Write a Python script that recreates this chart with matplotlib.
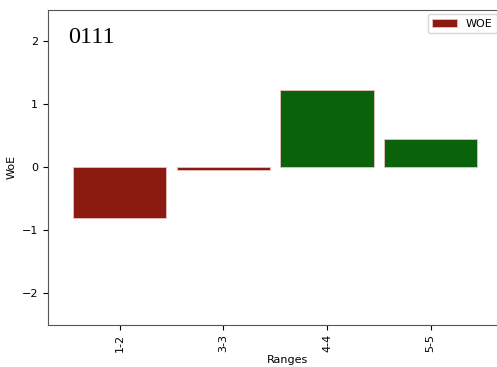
import matplotlib.pyplot as plt

ranges = ["1-2", "3-3", "4-4", "5-5"]
woe = [-0.81, -0.045, 1.22, 0.45]
colors = ["#8b1a10" if v < 0 else "#0a620a" for v in woe]

fig = plt.figure(figsize=(4.97, 3.67), dpi=100)
# axes runs off the right edge like the cropped original
ax = fig.add_axes([48 / 497, 42.5 / 367, 480 / 497, 315 / 367])
ax.bar(range(len(ranges)), woe, color=colors, width=0.9,
       edgecolor="#e8c0c0", linewidth=0.6, label="WOE")
ax.set_xticks(range(len(ranges)))
ax.set_xticklabels(ranges, rotation=90)
ax.set_xlim(-0.69, -0.69 + 480 / 103.7)
ax.set_ylim(-2.5, 2.5)
ax.set_xlabel("Ranges", fontsize=8, labelpad=2)
ax.set_ylabel("WoE", fontsize=8)
ax.tick_params(labelsize=8)
ax.set_yticks([-2, -1, 0, 1, 2])
for s in ax.spines.values():
    s.set_color("#555555")
ax.text(20 / 480, 0.91, "0111", transform=ax.transAxes, fontsize=17.5,
        family="Liberation Serif", va="center")
leg = ax.legend(loc="upper left", fontsize=8, bbox_to_anchor=((428 - 48) / 480, 0.985),
                borderaxespad=0, handlelength=2.2)

fig.savefig("out.png", dpi=100)
